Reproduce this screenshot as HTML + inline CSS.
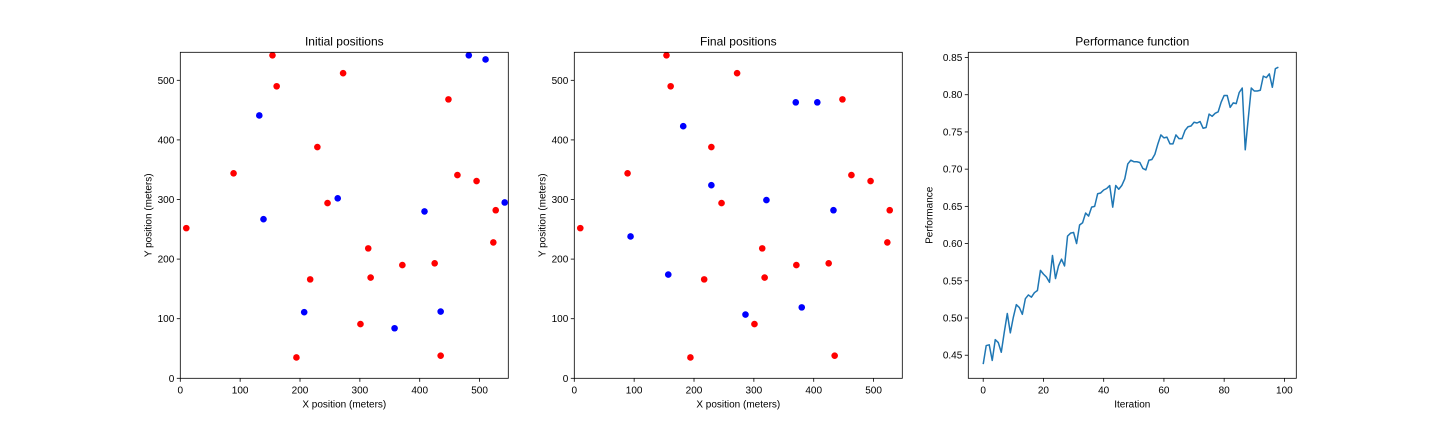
<!DOCTYPE html>
<html><head><meta charset="utf-8"><style>
html,body{margin:0;padding:0;background:#fff;}
svg{display:block;font-family:"Liberation Sans","DejaVu Sans",sans-serif;}
</style></head><body>
<svg id="fig" width="1440" height="432" xmlns="http://www.w3.org/2000/svg"></svg>
<script>
const redX=[154,161,272,89,10,229,448,246,463,495,527,523,314,318,217,371,425,301,194,435];
const redY=[542,490,512,344,252,388,468,294,341,331,282,228,218,169,166,190,193,91,35,38];
const blueInitX=[482,510,132,139,263,408,542,207,358,435];
const blueInitY=[542,535,441,267,302,280,295,111,84,112];
const blueFinalX=[370,406,182,229,321,433,94,157,286,380];
const blueFinalY=[463,463,423,324,299,282,238,174,107,119];
const perf=[0.438,0.463,0.464,0.443,0.471,0.467,0.454,0.481,0.506,0.480,0.501,0.518,0.514,0.505,0.526,0.531,0.528,0.534,0.537,0.564,0.559,0.555,0.548,0.584,0.553,0.570,0.579,0.570,0.610,0.614,0.615,0.600,0.625,0.628,0.641,0.637,0.649,0.650,0.667,0.668,0.672,0.674,0.678,0.649,0.678,0.673,0.678,0.687,0.707,0.712,0.710,0.710,0.709,0.701,0.699,0.712,0.713,0.720,0.734,0.746,0.742,0.743,0.734,0.734,0.746,0.741,0.741,0.752,0.757,0.758,0.763,0.762,0.764,0.755,0.756,0.774,0.771,0.775,0.777,0.790,0.799,0.799,0.783,0.789,0.788,0.803,0.809,0.726,0.768,0.809,0.805,0.805,0.806,0.825,0.823,0.828,0.810,0.835,0.837];
const posTicks=[0,100,200,300,400,500];
const perfXTicks=[0,20,40,60,80,100];
const perfYTicks=[0.45,0.50,0.55,0.60,0.65,0.70,0.75,0.80,0.85];

const NS="http://www.w3.org/2000/svg";
const svg=document.getElementById('fig');
function el(tag,attrs,parent){const e=document.createElementNS(NS,tag);for(const k in attrs)e.setAttribute(k,attrs[k]);(parent||svg).appendChild(e);return e;}

function makeAxes(name,L,T,W,H,xmin,xmax,ymin,ymax,title,xlabel,ylabel,xt,yt,yfmt){
  const g=el('g',{});
  
  
  const sx=v=>L+(v-xmin)/(xmax-xmin)*W;
  const sy=v=>T+H-(v-ymin)/(ymax-ymin)*H;
  const t=el('text',{x:L+W/2,y:T-7,'text-anchor':'middle','font-size':12,fill:'#000'},g);
  t.textContent=title;
  
  
  xt.forEach(v=>{
    const x=sx(v);
    el('line',{x1:x,x2:x,y1:T+H,y2:T+H+3.5,stroke:'#000','stroke-width':0.8},g);
    const tx=el('text',{x:x,y:T+H+15,'text-anchor':'middle','font-size':10,fill:'#000'},g);
    tx.textContent=String(v);
    
    
  });
  yt.forEach(v=>{
    const y=sy(v);
    el('line',{x1:L-3.5,x2:L,y1:y,y2:y,stroke:'#000','stroke-width':0.8},g);
    const ty=el('text',{x:L-6,y:y+3.5,'text-anchor':'end','font-size':10,fill:'#000'},g);
    ty.textContent=yfmt?yfmt(v):String(v);
    
    
  });
  const xl=el('text',{x:L+W/2,y:T+H+29,'text-anchor':'middle','font-size':10,fill:'#000'},g);
  xl.textContent=xlabel;
  
  
  const yx=L-(yfmt?36:29), yy=T+H/2;
  const yl=el('text',{x:yx,y:yy,'text-anchor':'middle','font-size':10,fill:'#000',transform:`rotate(-90 ${yx} ${yy})`},g);
  yl.textContent=ylabel;
  
  
  const data=el('g',{},g);
  el('rect',{x:L,y:T,width:W,height:H,fill:'none',stroke:'#000','stroke-width':0.8},g);
  return {sx,sy,g:data};
}
function scatter(ax,xs,ys,color,name){
  xs.forEach((x,i)=>{
    const c=el('circle',{cx:ax.sx(x),cy:ax.sy(ys[i]),r:3.3,fill:color},ax.g);
    
    
  });
}
const a1=makeAxes('initial-positions-chart',180.3,52.3,328,326,0,548,0,547,'Initial positions','X position (meters)','Y position (meters)',posTicks,posTicks);
scatter(a1,redX,redY,'#ff0000','red-point');
scatter(a1,blueInitX,blueInitY,'#0000ff','blue-point');
const a2=makeAxes('final-positions-chart',574.3,52.3,328,326,0,548,0,547,'Final positions','X position (meters)','Y position (meters)',posTicks,posTicks);
scatter(a2,redX,redY,'#ff0000','red-point');
scatter(a2,blueFinalX,blueFinalY,'#0000ff','blue-point');
const a3=makeAxes('performance-chart',968.3,52.3,328,326,-4.95,103.95,0.419,0.857,'Performance function','Iteration','Performance',perfXTicks,perfYTicks,v=>v.toFixed(2));
const pts=perf.map((v,i)=>a3.sx(i).toFixed(2)+','+a3.sy(v).toFixed(2)).join(' ');
const line=el('polyline',{points:pts,fill:'none',stroke:'#1f77b4','stroke-width':1.5,'stroke-linejoin':'round'},a3.g);


</script>
</body></html>
